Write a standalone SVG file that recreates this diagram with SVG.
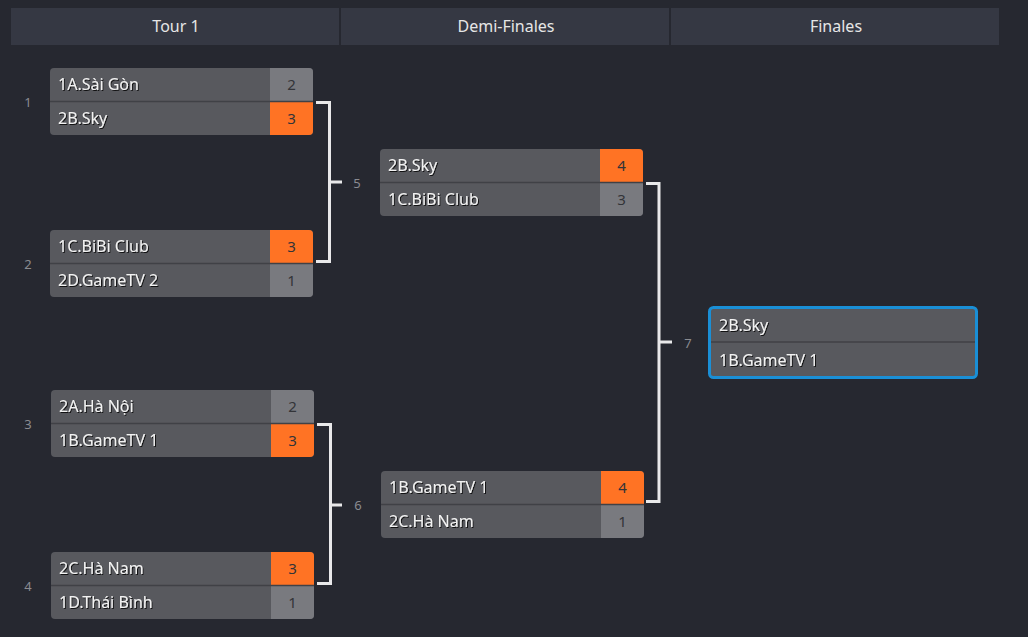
<svg xmlns="http://www.w3.org/2000/svg" width="1028" height="637" viewBox="0 0 1028 637">
<style>
.hdr{fill:#353843}
.htxt{font-family:"Noto Sans",sans-serif;font-size:16px;fill:#e6e6e6;text-anchor:middle}
.row{fill:#58595e}
.sc{fill:#797a7f}
.win{fill:#ff7324}
.div{stroke:#404146;stroke-width:1.5}
.name{font-family:"Noto Sans",sans-serif;font-size:16px;fill:#f2f2f2;filter:url(#sh)}
.num{font-family:"Noto Sans",sans-serif;font-size:15px;fill:#333438;text-anchor:middle}
.lbl{font-family:"Noto Sans",sans-serif;font-size:13px;fill:#8a8b90;text-anchor:middle}
.con{fill:none;stroke:#e9e9ea;stroke-width:3}
</style>
<defs>
<filter id="sh" x="-10%" y="-30%" width="120%" height="160%">
<feDropShadow dx="1" dy="1" stdDeviation="0.6" flood-color="#000" flood-opacity="0.8"/>
</filter>
<clipPath id="c"><rect x="0" y="0" width="263" height="67" rx="4"/></clipPath>
</defs>
<rect width="1028" height="637" fill="#262830"/>
<g id="headers">
<rect class="hdr" x="11" y="8" width="328" height="37"/>
<rect class="hdr" x="341" y="8" width="328" height="37"/>
<rect class="hdr" x="671" y="8" width="328" height="37"/>
<text class="htxt" x="176" y="32">Tour 1</text>
<text class="htxt" x="506" y="32">Demi-Finales</text>
<text class="htxt" x="836" y="32">Finales</text>
</g>
<g id="connectors">
<path class="con" d="M316 102.5H329.5V261.5H316M329.5 182H342"/>
<path class="con" d="M317 424.5H330.5V583.5H317M330.5 505H342"/>
<path class="con" d="M646 183.5H659V501.5H646M659 342H672"/>
</g>
<g id="labels">
<text class="lbl" x="28" y="107">1</text>
<text class="lbl" x="28" y="269">2</text>
<text class="lbl" x="28" y="429">3</text>
<text class="lbl" x="28" y="591">4</text>
<text class="lbl" x="357" y="188">5</text>
<text class="lbl" x="358" y="510">6</text>
<text class="lbl" x="688" y="348">7</text>
</g>
<g id="m1" transform="translate(50,68)">
<g clip-path="url(#c)">
<rect class="row" width="263" height="67"/>
<rect class="sc" x="220" width="43" height="33.5"/>
<rect class="win" x="220" y="33.5" width="43" height="33.5"/>
</g>
<line class="div" x1="0" y1="33.5" x2="263" y2="33.5"/>
<text class="name" x="8" y="22">1A.Sài Gòn</text>
<text class="name" x="8" y="56">2B.Sky</text>
<text class="num" x="241.5" y="22">2</text>
<text class="num" x="241.5" y="56">3</text>
</g>
<g id="m2" transform="translate(50,230)">
<g clip-path="url(#c)">
<rect class="row" width="263" height="67"/>
<rect class="win" x="220" width="43" height="33.5"/>
<rect class="sc" x="220" y="33.5" width="43" height="33.5"/>
</g>
<line class="div" x1="0" y1="33.5" x2="263" y2="33.5"/>
<text class="name" x="8" y="22">1C.BiBi Club</text>
<text class="name" x="8" y="56">2D.GameTV 2</text>
<text class="num" x="241.5" y="22">3</text>
<text class="num" x="241.5" y="56">1</text>
</g>
<g id="m3" transform="translate(51,390)">
<g clip-path="url(#c)">
<rect class="row" width="263" height="67"/>
<rect class="sc" x="220" width="43" height="33.5"/>
<rect class="win" x="220" y="33.5" width="43" height="33.5"/>
</g>
<line class="div" x1="0" y1="33.5" x2="263" y2="33.5"/>
<text class="name" x="8" y="22">2A.Hà Nội</text>
<text class="name" x="8" y="56">1B.GameTV 1</text>
<text class="num" x="241.5" y="22">2</text>
<text class="num" x="241.5" y="56">3</text>
</g>
<g id="m4" transform="translate(51,552)">
<g clip-path="url(#c)">
<rect class="row" width="263" height="67"/>
<rect class="win" x="220" width="43" height="33.5"/>
<rect class="sc" x="220" y="33.5" width="43" height="33.5"/>
</g>
<line class="div" x1="0" y1="33.5" x2="263" y2="33.5"/>
<text class="name" x="8" y="22">2C.Hà Nam</text>
<text class="name" x="8" y="56">1D.Thái Bình</text>
<text class="num" x="241.5" y="22">3</text>
<text class="num" x="241.5" y="56">1</text>
</g>
<g id="m5" transform="translate(380,149)">
<g clip-path="url(#c)">
<rect class="row" width="263" height="67"/>
<rect class="win" x="220" width="43" height="33.5"/>
<rect class="sc" x="220" y="33.5" width="43" height="33.5"/>
</g>
<line class="div" x1="0" y1="33.5" x2="263" y2="33.5"/>
<text class="name" x="8" y="22">2B.Sky</text>
<text class="name" x="8" y="56">1C.BiBi Club</text>
<text class="num" x="241.5" y="22">4</text>
<text class="num" x="241.5" y="56">3</text>
</g>
<g id="m6" transform="translate(381,471)">
<g clip-path="url(#c)">
<rect class="row" width="263" height="67"/>
<rect class="win" x="220" width="43" height="33.5"/>
<rect class="sc" x="220" y="33.5" width="43" height="33.5"/>
</g>
<line class="div" x1="0" y1="33.5" x2="263" y2="33.5"/>
<text class="name" x="8" y="22">1B.GameTV 1</text>
<text class="name" x="8" y="56">2C.Hà Nam</text>
<text class="num" x="241.5" y="22">4</text>
<text class="num" x="241.5" y="56">1</text>
</g>
<g id="m7" transform="translate(708,306)">
<rect x="1.5" y="1.5" width="267" height="70" rx="4" fill="#58595e" stroke="#1a8fd6" stroke-width="3"/>
<line class="div" x1="3" y1="36" x2="267" y2="36"/>
<text class="name" x="11" y="25">2B.Sky</text>
<text class="name" x="11" y="60">1B.GameTV 1</text>
</g>
</svg>
